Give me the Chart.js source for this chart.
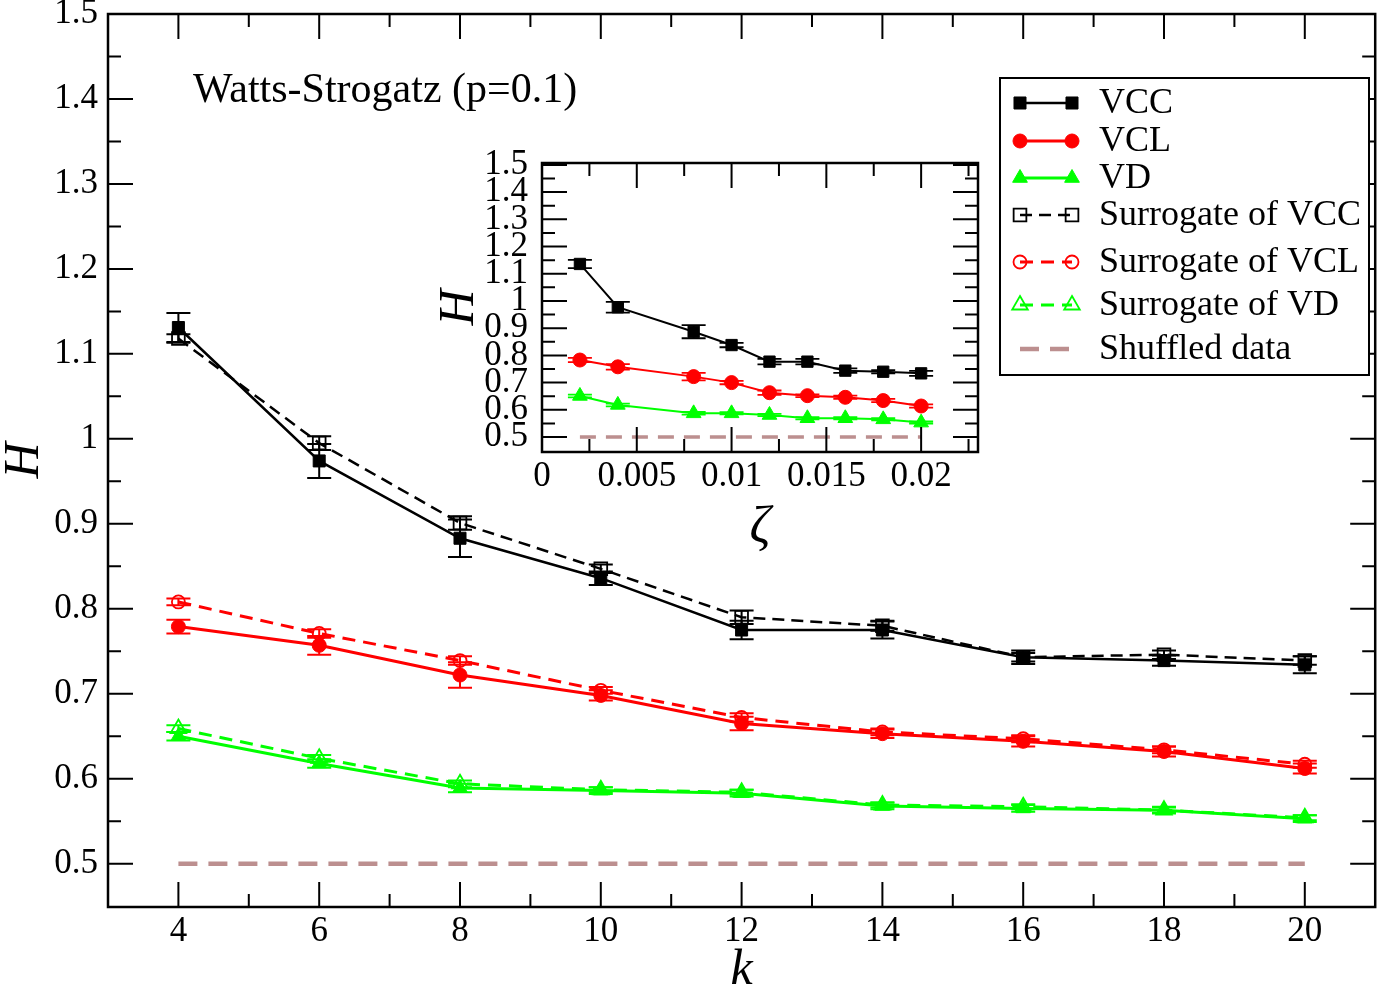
<!DOCTYPE html>
<html><head><meta charset="utf-8">
<script src="https://cdn.jsdelivr.net/npm/chart.js@4.4.1/dist/chart.umd.min.js"></script>
<style>
html,body{margin:0;padding:0;background:#fff;}
#wrap{position:relative;width:1386px;height:996px;overflow:hidden;}
#main{position:absolute;left:0;top:0;}
#inset{position:absolute;left:430px;top:140px;}
</style></head><body>
<div id="wrap"><canvas id="main" width="1386" height="996"></canvas><canvas id="inset" width="560" height="420"></canvas></div>
<script>
// ---------------- data: main panel (H vs k) ----------------
const kValues   = [4, 6, 8, 10, 12, 14, 16, 18, 20];
const hVCC      = [1.131, 0.974, 0.883, 0.836, 0.775, 0.775, 0.743, 0.739, 0.734];
const errVCC    = [0.017, 0.020, 0.022, 0.008, 0.011, 0.010, 0.008, 0.006, 0.010];
const hVCL      = [0.779, 0.757, 0.722, 0.698, 0.665, 0.653, 0.644, 0.632, 0.612];
const errVCL    = [0.008, 0.011, 0.015, 0.006, 0.008, 0.005, 0.006, 0.006, 0.006];
const hVD       = [0.650, 0.618, 0.589, 0.586, 0.583, 0.568, 0.565, 0.563, 0.553];
const errVD     = [0.005, 0.005, 0.005, 0.004, 0.004, 0.004, 0.004, 0.004, 0.004];
const hSurVCC   = [1.118, 0.995, 0.901, 0.847, 0.790, 0.780, 0.743, 0.746, 0.739];
const errSurVCC = [0.005, 0.008, 0.008, 0.005, 0.008, 0.006, 0.005, 0.005, 0.005];
const hSurVCL   = [0.808, 0.771, 0.739, 0.704, 0.672, 0.655, 0.647, 0.634, 0.617];
const errSurVCL = [0.004, 0.005, 0.005, 0.004, 0.005, 0.004, 0.004, 0.004, 0.004];
const hSurVD    = [0.659, 0.624, 0.594, 0.587, 0.584, 0.569, 0.567, 0.563, 0.554];
const errSurVD  = [0.004, 0.004, 0.004, 0.003, 0.003, 0.003, 0.003, 0.003, 0.003];
const hShuffled = [0.5, 0.5, 0.5, 0.5, 0.5, 0.5, 0.5, 0.5, 0.5];

const mainXTicks  = [4, 6, 8, 10, 12, 14, 16, 18, 20];
const mainXLabels = ['4', '6', '8', '10', '12', '14', '16', '18', '20'];
const mainXMinor  = [5, 7, 9, 11, 13, 15, 17, 19];
const mainYTicks  = [0.5, 0.6, 0.7, 0.8, 0.9, 1.0, 1.1, 1.2, 1.3, 1.4, 1.5];
const mainYLabels = ['0.5', '0.6', '0.7', '0.8', '0.9', '1', '1.1', '1.2', '1.3', '1.4', '1.5'];
const mainYMinor  = [0.55, 0.65, 0.75, 0.85, 0.95, 1.05, 1.15, 1.25, 1.35, 1.45];

const seriesLabels = ['VCC', 'VCL', 'VD', 'Surrogate of VCC', 'Surrogate of VCL', 'Surrogate of VD', 'Shuffled data'];
const noteText = 'Watts-Strogatz (p=0.1)';

// ---------------- data: inset (H vs zeta) ----------------
const zetaValues   = [0.002, 0.004, 0.008, 0.010, 0.012, 0.014, 0.016, 0.018, 0.020];
const inVCC        = [1.136, 0.977, 0.887, 0.838, 0.777, 0.777, 0.744, 0.740, 0.734];
const inErrVCC     = [0.015, 0.020, 0.024, 0.008, 0.010, 0.010, 0.008, 0.006, 0.009];
const inVCL        = [0.783, 0.758, 0.722, 0.700, 0.663, 0.652, 0.646, 0.634, 0.614];
const inErrVCL     = [0.008, 0.010, 0.014, 0.006, 0.008, 0.005, 0.006, 0.006, 0.006];
const inVD         = [0.651, 0.618, 0.587, 0.587, 0.581, 0.569, 0.569, 0.565, 0.553];
const inErrVD      = [0.005, 0.005, 0.005, 0.004, 0.004, 0.004, 0.004, 0.004, 0.004];
const inShuffled   = [0.5, 0.5, 0.5, 0.5, 0.5, 0.5, 0.5, 0.5, 0.5];

const inXTicks  = [0, 0.005, 0.01, 0.015, 0.02];
const inXLabels = ['0', '0.005', '0.01', '0.015', '0.02'];
const inXMinor  = [0.0025, 0.0075, 0.0125, 0.0175, 0.0225];
const inYTicks  = mainYTicks;
const inYLabels = mainYLabels;
const inYMinor  = mainYMinor;

// ---------------- helpers ----------------
const FONT = 'Liberation Serif';
Chart.defaults.font.family = FONT;
Chart.defaults.color = '#000';

function pts(xs, ys) { return xs.map((x, i) => ({x: x, y: ys[i]})); }

function drawMarker(ctx, style, x, y, r, fill, stroke, lw) {
  ctx.save(); ctx.setLineDash([]); ctx.beginPath();
  if (style === 'rect') { const s = r * Math.SQRT1_2; ctx.rect(x - s, y - s, 2 * s, 2 * s); }
  else if (style === 'circle') { ctx.arc(x, y, r, 0, Math.PI * 2); }
  else if (style === 'triangle') {
    for (let k = 0; k < 3; k++) { const a = k * 2 * Math.PI / 3; const px = x + Math.sin(a) * r, py = y - Math.cos(a) * r; if (k) ctx.lineTo(px, py); else ctx.moveTo(px, py); }
    ctx.closePath();
  }
  if (fill && fill !== 'transparent') { ctx.fillStyle = fill; ctx.fill(); }
  if (lw > 0) { ctx.strokeStyle = stroke; ctx.lineWidth = lw; ctx.stroke(); }
  ctx.restore();
}

const errorBars = {
  id: 'errorBars',
  afterDatasetsDraw(chart) {
    const ctx = chart.ctx, ys = chart.scales.y;
    chart.data.datasets.forEach((ds, i) => {
      if (!ds.errors) return;
      const meta = chart.getDatasetMeta(i);
      ctx.save(); ctx.setLineDash([]); ctx.strokeStyle = ds.borderColor; ctx.lineWidth = ds.errWidth || 2;
      ctx.beginPath();
      meta.data.forEach((pt, j) => {
        const v = ds.data[j].y, e = ds.errors[j];
        const y1 = ys.getPixelForValue(v + e), y2 = ys.getPixelForValue(v - e);
        const x = pt.x, c = ds.capHalf || 12;
        ctx.moveTo(x, y1); ctx.lineTo(x, y2);
        ctx.moveTo(x - c, y1); ctx.lineTo(x + c, y1);
        ctx.moveTo(x - c, y2); ctx.lineTo(x + c, y2);
      });
      ctx.stroke(); ctx.restore();
    });
  }
};

function makeFrame(xMaj, xMin, yMaj, yMin, majLen, minLen, boxLw, tickLw) {
  return {
    id: 'frame',
    afterDraw(chart) {
      const ctx = chart.ctx, a = chart.chartArea, xs = chart.scales.x, ys = chart.scales.y;
      ctx.save(); ctx.setLineDash([]); ctx.strokeStyle = '#000';
      ctx.lineWidth = tickLw; ctx.beginPath();
      const xt = (v, len) => { const p = xs.getPixelForValue(v); ctx.moveTo(p, a.bottom); ctx.lineTo(p, a.bottom - len); ctx.moveTo(p, a.top); ctx.lineTo(p, a.top + len); };
      const yt = (v, len) => { const p = ys.getPixelForValue(v); ctx.moveTo(a.left, p); ctx.lineTo(a.left + len, p); ctx.moveTo(a.right, p); ctx.lineTo(a.right - len, p); };
      xMaj.forEach(v => xt(v, majLen)); xMin.forEach(v => xt(v, minLen));
      yMaj.forEach(v => yt(v, majLen)); yMin.forEach(v => yt(v, minLen));
      ctx.stroke();
      ctx.lineWidth = boxLw;
      ctx.strokeRect(a.left, a.top, a.right - a.left, a.bottom - a.top);
      ctx.restore();
    }
  };
}

const legendAndNote = {
  id: 'legendAndNote',
  afterDraw(chart) {
    const ctx = chart.ctx;
    ctx.save();
    ctx.font = '42px "' + FONT + '"'; ctx.fillStyle = '#000'; ctx.textBaseline = 'alphabetic'; ctx.textAlign = 'left';
    ctx.fillText(noteText, 193, 102);
    // legend box
    ctx.fillStyle = '#fff'; ctx.fillRect(1000, 78, 369, 297);
    ctx.strokeStyle = '#000'; ctx.lineWidth = 2; ctx.setLineDash([]);
    ctx.strokeRect(1000, 78, 369, 297);
    const rows = [103, 141, 178, 215, 262, 305, 349];
    chart.data.datasets.forEach((ds, i) => {
      const y = rows[i];
      ctx.save();
      ctx.strokeStyle = ds.borderColor; ctx.lineWidth = ds.borderWidth; ctx.setLineDash(ds.borderDash || []);
      ctx.beginPath(); ctx.moveTo(1020, y); ctx.lineTo(1072, y); ctx.stroke();
      ctx.restore();
      if (ds.pointRadius > 0) {
        drawMarker(ctx, ds.pointStyle, 1020, y, ds.pointRadius, ds.pointBackgroundColor, ds.pointBorderColor, ds.pointBorderWidth);
        drawMarker(ctx, ds.pointStyle, 1072, y, ds.pointRadius, ds.pointBackgroundColor, ds.pointBorderColor, ds.pointBorderWidth);
      }
      ctx.fillStyle = '#000'; ctx.font = '36px "' + FONT + '"'; ctx.textBaseline = 'middle'; ctx.textAlign = 'left';
      ctx.fillText(ds.label, 1099, y + 1);
    });
    ctx.restore();
  }
};

function ds(label, xs, ys, errs, color, lw, dash, style, r, filled, extra) {
  return Object.assign({
    label: label, data: pts(xs, ys), errors: errs,
    borderColor: color, borderWidth: lw, borderDash: dash,
    pointStyle: style || 'circle', pointRadius: r || 0, pointHoverRadius: r || 0,
    pointBackgroundColor: filled ? color : 'transparent', pointBorderColor: color,
    pointBorderWidth: filled ? 1 : 1.8, tension: 0, fill: false
  }, extra || {});
}

const BLACK = '#000000', RED = '#ff0000', GREEN = '#00ff00', BROWN = '#bc8f8f';

// ---------------- main chart ----------------
new Chart(document.getElementById('main'), {
  type: 'line',
  data: { datasets: [
    ds(seriesLabels[0], kValues, hVCC, errVCC, BLACK, 2.5, [], 'rect', 8.5, true),
    ds(seriesLabels[1], kValues, hVCL, errVCL, RED, 3, [], 'circle', 7, true),
    ds(seriesLabels[2], kValues, hVD, errVD, GREEN, 3, [], 'triangle', 8.5, true),
    ds(seriesLabels[3], kValues, hSurVCC, errSurVCC, BLACK, 2.5, [12, 7], 'rect', 9, false),
    ds(seriesLabels[4], kValues, hSurVCL, errSurVCL, RED, 3, [13, 8], 'circle', 6.5, false),
    ds(seriesLabels[5], kValues, hSurVD, errSurVD, GREEN, 3, [13, 8], 'triangle', 9, false),
    ds(seriesLabels[6], kValues, hShuffled, null, BROWN, 4.5, [19, 11], 'circle', 0, false)
  ]},
  options: {
    responsive: false, animation: false, devicePixelRatio: 1,
    layout: { padding: { top: 14, right: 3, left: 0, bottom: 0 } },
    plugins: { legend: { display: false }, tooltip: { enabled: false } },
    scales: {
      x: {
        type: 'linear', min: 3, max: 21,
        grid: { display: false, drawTicks: false }, border: { display: false },
        afterBuildTicks: s => { s.ticks = mainXTicks.map(v => ({ value: v })); },
        afterFit: s => { s.height = 89; s.paddingLeft = 0; s.paddingRight = 0; },
        ticks: { autoSkip: false, maxRotation: 0, padding: 4, color: '#000', font: { size: 35 }, callback: (v, i) => mainXLabels[i] },
        title: { display: true, text: 'k', color: '#000', font: { size: 50, style: 'italic', lineHeight: 1 }, padding: { top: 0, bottom: 0 } }
      },
      y: {
        type: 'linear', min: 0.449, max: 1.5,
        grid: { display: false, drawTicks: false }, border: { display: false },
        afterBuildTicks: s => { s.ticks = mainYTicks.map(v => ({ value: v })); },
        afterFit: s => { s.width = 108; s.paddingTop = 0; s.paddingBottom = 0; },
        ticks: { autoSkip: false, padding: 10, color: '#000', font: { size: 35 }, callback: (v, i) => mainYLabels[i] },
        title: { display: true, text: 'H', color: '#000', font: { size: 50, style: 'italic', lineHeight: 1 }, padding: { top: 0, bottom: 0 } }
      }
    }
  },
  plugins: [errorBars, makeFrame(mainXTicks, mainXMinor, mainYTicks, mainYMinor, 25, 13, 2.5, 2), legendAndNote]
});

// ---------------- inset chart ----------------
new Chart(document.getElementById('inset'), {
  type: 'line',
  data: { datasets: [
    ds(seriesLabels[0], zetaValues, inVCC, inErrVCC, BLACK, 2, [], 'rect', 8, true, { errWidth: 1.8 }),
    ds(seriesLabels[1], zetaValues, inVCL, inErrVCL, RED, 2, [], 'circle', 7, true, { errWidth: 1.8 }),
    ds(seriesLabels[2], zetaValues, inVD, inErrVD, GREEN, 2, [], 'triangle', 8.5, true, { errWidth: 1.8 }),
    ds(seriesLabels[6], zetaValues, inShuffled, null, BROWN, 3.5, [16, 10], 'circle', 0, false)
  ]},
  options: {
    responsive: false, animation: false, devicePixelRatio: 1,
    layout: { padding: { top: 23, right: 12, left: 0, bottom: 0 } },
    plugins: { legend: { display: false }, tooltip: { enabled: false } },
    scales: {
      x: {
        type: 'linear', min: 0, max: 0.023,
        grid: { display: false, drawTicks: false }, border: { display: false },
        afterBuildTicks: s => { s.ticks = inXTicks.map(v => ({ value: v })); },
        afterFit: s => { s.height = 108; s.paddingLeft = 0; s.paddingRight = 0; },
        ticks: { autoSkip: false, maxRotation: 0, padding: 4, color: '#000', font: { size: 35 }, callback: (v, i) => inXLabels[i] },
        title: { display: true, text: 'ζ', color: '#000', font: { size: 52, style: 'italic', lineHeight: 1 }, padding: { top: 0, bottom: 6 } }
      },
      y: {
        type: 'linear', min: 0.445, max: 1.507,
        grid: { display: false, drawTicks: false }, border: { display: false },
        afterBuildTicks: s => { s.ticks = inYTicks.map(v => ({ value: v })); },
        afterFit: s => { s.width = 112; s.paddingTop = 0; s.paddingBottom = 0; },
        ticks: { autoSkip: false, padding: 14, color: '#000', font: { size: 35 }, callback: (v, i) => inYLabels[i] },
        title: { display: true, text: 'H', color: '#000', font: { size: 50, style: 'italic', lineHeight: 1 }, padding: { top: 5, bottom: 0 } }
      }
    }
  },
  plugins: [errorBars, makeFrame(inXTicks, inXMinor, inYTicks, inYMinor, 25, 13, 2.5, 2)]
});
</script>
</body></html>
